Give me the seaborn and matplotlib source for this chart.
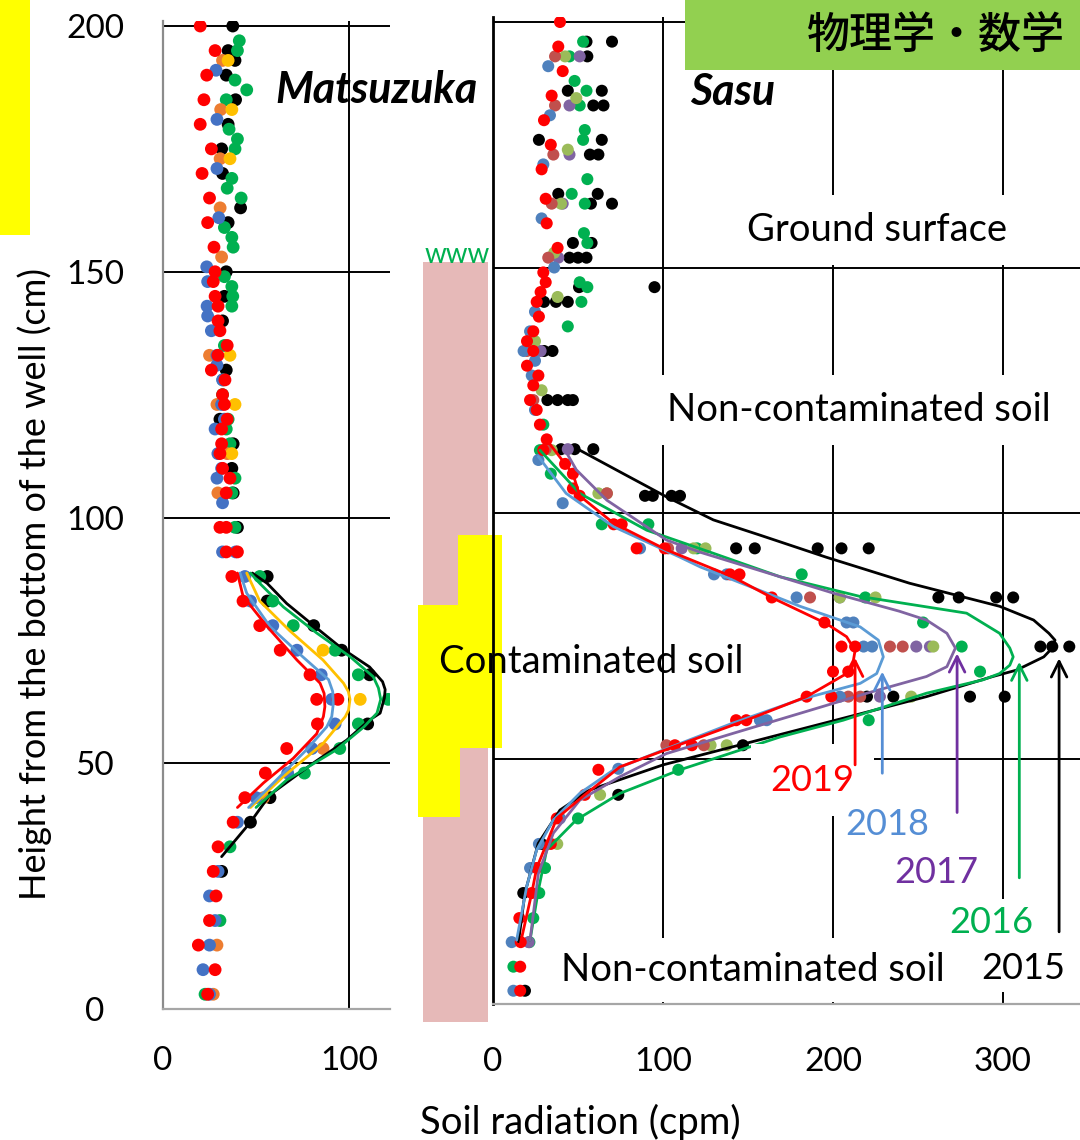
"""
Soil radiation profiles in two wells (Matsuzuka, Sasu), 2015-2019.
"""
import pandas as pd
import matplotlib
matplotlib.use("Agg")
import matplotlib.pyplot as plt
from matplotlib.patches import Rectangle
import seaborn as sns

W, H = 1080, 1140

# ---- Matsuzuka: measured points (height cm, radiation cpm)
MZ_BLACK = [(200, 37.5), (195, 35), (193, 38.7), (190, 34), (185, 39), (180, 35), (175, 31.5),
            (170, 32), (163, 41.7), (160, 35), (150, 34), (145, 33), (140, 32), (130, 34),
            (120, 30.6), (115, 37.7), (110, 37), (105, 37.7), (98, 40), (88, 56), (83, 56),
            (78, 81), (73, 96), (68, 111), (58, 110), (43, 57.5), (38, 47), (28, 31.5)]
MZ_GREEN = [(197, 41), (195, 40), (189, 38.7), (187, 45), (185, 34), (179, 35.5), (177, 40),
            (175, 38.7), (169, 37), (167, 34.5), (165, 42), (159, 33), (157, 37), (155, 37.7),
            (149, 33), (147, 37), (145, 37.5), (143, 37), (135, 33), (128, 32.3), (125, 32),
            (120, 35), (118, 34), (115, 36), (108, 38.7), (105, 37), (98, 38.7), (88, 52),
            (83, 59), (78, 70), (73, 92.5), (68, 105), (63, 121), (58, 105), (53, 95), (48, 76),
            (33, 36), (18, 30.6), (3, 22.6)]
MZ_ORANGE = [(193, 32), (183, 31), (173, 30.7), (163, 30.7), (153, 31.5), (133, 25), (123, 29),
             (113, 34.5), (105, 29.5), (53, 86), (43, 54), (13, 29), (3, 27)]
MZ_GOLD = [(193, 35), (183, 37), (173, 36), (133, 36), (123, 38.7), (113, 37), (73, 86), (63, 106)]
MZ_BLUE = [(191, 28.5), (181, 29), (171, 29), (161, 30), (151, 23.5), (148, 24), (143, 23.7),
           (141, 24), (138, 26), (133, 29), (131, 29), (128, 32), (123, 31.5), (120, 33),
           (118, 28), (113, 29.5), (110, 31.5), (108, 29), (103, 32), (93, 32), (93, 39),
           (88, 44), (83, 47), (78, 59), (73, 72), (68, 85), (63, 90.7), (58, 92.5), (53, 80),
           (48, 67), (43, 50), (38, 40), (28, 29.6), (23, 25), (18, 28), (13, 25), (8, 21.5),
           (3, 25)]
MZ_RED = [(200, 20), (195, 28), (190, 23.5), (185, 22), (180, 20), (175, 26), (170, 21),
          (165, 25), (160, 24), (155, 27.4), (150, 28), (148, 27), (145, 28), (143, 29.6),
          (140, 29.6), (138, 30.6), (135, 34.5), (133, 29.5), (130, 26), (128, 33.3), (125, 32),
          (123, 33), (120, 34.5), (118, 31.5), (115, 31.5), (113, 30.6), (110, 32), (108, 36),
          (105, 34), (98, 30.6), (98, 34), (93, 34), (93, 40), (88, 37), (83, 43), (78, 52),
          (73, 63), (68, 79), (63, 82.6), (63, 94), (58, 83), (53, 66.5), (48, 55), (43, 44),
          (38, 37.7), (33, 29.6), (28, 27), (23, 28.5), (18, 25), (13, 19), (8, 28), (3, 24)]

# ---- Matsuzuka: fitted curves
MZ_FIT_BLACK = [(31, 31.5), (38, 47), (43.6, 57.5), (50, 80.6), (54.7, 98.7), (58.8, 111),
                (60.2, 116.7), (63.3, 119), (65, 119.4), (66.6, 118), (69.6, 111), (73.4, 96),
                (78, 81), (82.5, 66.5), (86.6, 56), (88.7, 48)]
MZ_FIT_GREEN = [(41, 50), (46.6, 66.5), (52.7, 93), (57.4, 108), (60.2, 115), (63, 117),
                (65.3, 115.8), (67.6, 113), (71.7, 100.5), (76.5, 82.6), (81.8, 64.7),
                (86.6, 52), (88.7, 47)]
MZ_FIT_GOLD = [(41, 47), (47.3, 64.7), (54, 86), (59.5, 98), (60.8, 99.7), (63, 100.5),
               (64.6, 99.6), (66.3, 97), (71, 86), (77, 68), (83, 52), (88.7, 45)]
MZ_FIT_BLUE = [(41, 46), (46.6, 61), (52.7, 77), (57.4, 88), (59.5, 90.7), (62, 91.5),
               (64.6, 91.2), (67, 89), (71.7, 75), (77.8, 57.5), (84.6, 45), (88.7, 41.4)]
MZ_FIT_RED = [(41, 40), (46, 54), (51, 70), (56, 82.6), (59.5, 86.2), (61.5, 87), (64.2, 86.6),
              (66.3, 84.4), (71, 72), (77.8, 56), (84, 43), (88.7, 40)]

# ---- Sasu: measured points
SS_BLACK = [(196, 55), (196, 70), (193, 55.5), (186, 44), (186, 64), (183, 59), (183, 65),
            (176, 27), (176, 64), (173, 57), (173, 62), (165, 38.4), (165, 61.6), (163, 57.6),
            (163, 70), (155, 47), (155, 58), (152, 45), (152, 50), (152, 55), (146, 50.6),
            (146, 95), (143, 30), (143, 37), (143, 44), (133, 30), (133, 35), (123, 32),
            (123, 38), (123, 44), (123, 47), (113, 40), (113, 48), (113, 59), (103.5, 89.4),
            (103.5, 94), (103.5, 105), (103.5, 110), (92.8, 143), (92.8, 154), (92.8, 191),
            (92.8, 205), (92.8, 221), (82.8, 262), (82.8, 274), (82.8, 296), (82.8, 306),
            (72.8, 322), (72.8, 329), (72.8, 339), (62.6, 220), (62.6, 235.5), (62.6, 280.6),
            (62.6, 301), (52.7, 147), (42.6, 73.7), (32.6, 28.6), (22.6, 17.8), (2.7, 18.8)]
SS_GREEN = [(196, 53), (193, 45), (188, 48), (186, 55), (183, 51), (178, 54), (176, 53),
            (168, 55.5), (165, 46.3), (163, 54), (157, 53.5), (155, 55.5), (147, 51), (146, 55.5),
            (143, 52), (138, 44), (118, 29.6), (112.8, 27.6), (108, 34), (97.7, 64), (97.7, 91.4),
            (92.8, 120), (87.5, 181.6), (82.8, 219), (77.7, 253), (72.8, 275.7), (67.7, 286.5),
            (57.8, 221), (47.7, 109), (37.8, 50), (27.7, 30.6), (22.6, 27.2), (17.5, 23.7),
            (12.6, 21.4), (7.6, 12)]
SS_PURPLE = [(193, 51), (183, 45), (173, 45), (163, 41), (152, 38.4), (133, 28), (113, 44),
             (92.8, 111), (82.8, 204), (72.8, 249), (72.8, 257), (62.6, 227.6), (12.6, 21)]
SS_OLIVE = [(193, 42.4), (184.5, 49), (174, 44), (163, 40), (153, 36), (144, 38), (135, 24.7),
            (125, 28.6), (112.8, 34.5), (104, 62), (104, 67), (92.8, 118), (92.8, 125),
            (82.8, 204), (82.8, 225), (72.8, 259), (62.6, 246), (52.7, 128), (52.7, 137.5),
            (42.6, 63), (32.6, 37.8)]
SS_BROWN = [(193, 36.5), (183, 36.5), (173, 35.5), (163, 34.5), (152, 32.5), (133, 20),
            (123, 23.7), (113, 31), (104, 67), (92.8, 103), (82.8, 186.5), (72.8, 233.5),
            (72.8, 241), (62.6, 209), (62.6, 216), (52.7, 102), (52.7, 124)]
SS_BLUE = [(191, 32.5), (181, 33.5), (171, 29.6), (160, 28.6), (150, 36), (141, 24.7),
           (137, 21.8), (133, 18), (131, 24.7), (128, 22.8), (121, 24.7), (110.8, 26.7),
           (102, 41), (92.8, 86.5), (87.5, 130), (87.5, 137.5), (82.8, 178.6), (77.7, 208),
           (77.7, 212), (72.8, 218), (72.8, 223), (62.6, 204), (57.8, 157), (57.8, 161),
           (47.9, 73.7), (37.8, 39.4), (32.6, 27), (27.7, 21.8), (12.6, 11), (2.7, 12)]
SS_RED = [(200, 39.4), (195, 38.4), (190, 41), (185, 34.5), (180, 30), (175, 34), (170, 28.6),
          (164, 31), (159, 31.6), (154, 38), (149, 29.6), (147, 31), (145, 28), (143, 25.7),
          (140, 27), (137, 23.7), (135, 20), (133, 23.7), (130, 20), (128, 26.7), (126, 23.7),
          (123, 21.8), (121, 25.7), (118, 27.6), (115, 31.6), (112.8, 29.6), (110, 42.4),
          (108, 47), (105, 47), (103.5, 51), (97.7, 71), (97.7, 75.7), (92.8, 84.5),
          (92.8, 101), (87.5, 139.4), (87.5, 145), (82.8, 164), (77.7, 195), (72.8, 205),
          (72.8, 213), (67.7, 200), (67.7, 209), (62.6, 184.5), (62.6, 199), (57.8, 143),
          (57.8, 149), (52.7, 107), (52.7, 117), (47.7, 62), (42.6, 54), (37.8, 37.5),
          (32.6, 34), (27.7, 25.7), (22.6, 22.8), (17.5, 15.5), (12.6, 16.3), (7.6, 16),
          (2.7, 16)]

# ---- Sasu: fitted curves
SS_FIT_BLACK = [(12.7, 15), (22.6, 18.8), (32.7, 26.6), (39.5, 39.4), (43.6, 57), (48.7, 100),
                (53.1, 149), (58.2, 206), (62.6, 255), (66.7, 294), (68, 308), (70.7, 324),
                (72.5, 329), (74.1, 330.6), (75.5, 327), (78.2, 318), (81, 298), (85.7, 245),
                (91, 196), (95.5, 157), (98.6, 129.6), (103.3, 102), (108, 76.7), (112.8, 51)]
SS_FIT_GREEN = [(13, 21.8), (23.2, 26.7), (31.4, 31.6), (37.5, 49), (42.9, 74.7), (47.7, 110),
                (54.4, 169), (57.8, 206), (63.3, 255), (66, 288), (67.3, 298), (69, 304),
                (70.7, 306), (72.5, 304), (75.5, 298), (79.6, 278.6), (83, 216), (87, 169),
                (91.8, 129.6), (96.5, 90.4), (104, 51), (112.8, 27.6)]
SS_FIT_PURPLE = [(13, 21.8), (26.6, 26.7), (34.8, 35.5), (41.5, 51), (46.3, 74.7), (51, 102),
                 (55.1, 141), (59.2, 180.6), (63.3, 220), (66.7, 255), (68.7, 267), (72.5, 272),
                 (75.5, 267), (78.2, 255), (80, 239), (83.7, 200), (92, 122), (94.5, 102),
                 (102.6, 67), (108.8, 49), (112.8, 42.4)]
SS_FIT_BLUE = [(13, 13.9), (23.9, 19.8), (31.4, 25.7), (37.5, 35.5), (42.9, 51), (47.7, 71),
               (51.7, 100), (57.2, 141), (62, 180.6), (65.3, 216), (67.3, 225.7), (70.7, 229.6),
               (74.1, 226.7), (76.8, 216), (81, 180.6), (89, 122), (91, 110), (97.2, 71),
               (104, 43), (111.5, 26.7)]
SS_FIT_RED = [(12.6, 16.3), (22.6, 22.8), (27.7, 25.7), (37.8, 37.5), (42.6, 54), (48.3, 74.7),
              (52.6, 108), (57.8, 149), (62.6, 184.5), (67.3, 208), (70, 212), (72, 213),
              (74.8, 208), (77.5, 196), (82.6, 165), (87, 141), (92.5, 102), (97.9, 71),
              (103.5, 51), (108, 47), (110, 42.4), (114.9, 31.6)]

# ---- arrows marking the Sasu peaks, and year labels
YEARS = ["2019", "2018", "2017", "2016", "2015"]
YEAR_COLORS = ["#FF0000", "#558ED5", "#7030A0", "#00B050", "#000000"]
ARROW_X = [213, 229, 273, 309.6, 333]
ARROW_TIP = [70.5, 67.7, 71.4, 69.7, 70.4]
ARROW_BASE = [48.7, 47, 39, 25.7, 14.7]
YEAR_LABEL_X = [188, 232, 261, 293, 312]
YEAR_LABEL_Y = [45.6, 36.5, 26.7, 16.7, 7.3]

MZ_COLORS = {"black": "#000000", "green": "#00B050", "orange": "#ED7D31",
             "gold": "#FFC000", "blue": "#4472C4", "red": "#FF0000"}
SS_COLORS = {"black": "#000000", "green": "#00B050", "purple": "#8064A2", "olive": "#9BBB59",
             "brown": "#C0504D", "blue": "#4F81BD", "red": "#FF0000"}
FIT_COLORS = {"black": "#000000", "green": "#00B050", "gold": "#FFC000", "purple": "#8064A2",
              "blue": "#5B9BD5", "red": "#FF0000"}


def to_frame(series):
    rows = []
    for name, pts in series.items():
        for h, x in pts:
            rows.append({"series": name, "height": h, "cpm": x})
    return pd.DataFrame(rows)


def fx(px):
    return px / W


def fy(py):
    return 1 - py / H


sns.set_theme(style="white")
plt.rcParams["font.family"] = ["Lato", "Noto Sans CJK JP", "DejaVu Sans"]
plt.rcParams.update({"text.color": "black", "xtick.labelcolor": "black",
                     "ytick.labelcolor": "black", "lines.solid_joinstyle": "round"})

fig = plt.figure(figsize=(W / 100, H / 100), dpi=100)

# axes placed so that data map to the same pixels as the reference
ax1 = fig.add_axes([fx(163), fy(1009), fx(390) - fx(163), fy(21.1) - fy(1009)])
ax2 = fig.add_axes([fx(493), fy(1004), fx(1080) - fx(493), fy(17.1) - fy(1004)])

mz_pts = to_frame({"black": MZ_BLACK, "green": MZ_GREEN, "orange": MZ_ORANGE,
                   "gold": MZ_GOLD, "blue": MZ_BLUE, "red": MZ_RED})
mz_fit = to_frame({"black": MZ_FIT_BLACK, "green": MZ_FIT_GREEN, "gold": MZ_FIT_GOLD,
                   "blue": MZ_FIT_BLUE, "red": MZ_FIT_RED})
ss_pts = to_frame({"black": SS_BLACK, "green": SS_GREEN, "purple": SS_PURPLE,
                   "olive": SS_OLIVE, "brown": SS_BROWN, "blue": SS_BLUE, "red": SS_RED})
ss_fit = to_frame({"black": SS_FIT_BLACK, "green": SS_FIT_GREEN, "purple": SS_FIT_PURPLE,
                   "blue": SS_FIT_BLUE, "red": SS_FIT_RED})

sns.scatterplot(data=mz_pts, x="cpm", y="height", hue="series", palette=MZ_COLORS,
                s=85, linewidth=0, legend=False, ax=ax1, zorder=3)
sns.lineplot(data=mz_fit, x="cpm", y="height", hue="series", palette=FIT_COLORS,
             sort=False, estimator=None, lw=2, legend=False, ax=ax1, zorder=4)
sns.scatterplot(data=ss_pts, x="cpm", y="height", hue="series", palette=SS_COLORS,
                s=75, linewidth=0, legend=False, ax=ax2, zorder=3)
sns.lineplot(data=ss_fit, x="cpm", y="height", hue="series", palette=FIT_COLORS,
             sort=False, estimator=None, lw=2, legend=False, ax=ax2, zorder=4)

for ax, xmax, xticks in [(ax1, 122, [0, 100]), (ax2, 345.3, [0, 100, 200, 300])]:
    ax.set_xlim(0, xmax)
    ax.set_ylim(0, 201)
    ax.set_xticks(xticks)
    ax.set_yticks([0, 50, 100, 150, 200])
    ax.set_xlabel("")
    ax.set_ylabel("")
    ax.grid(True, color="black", lw=1.4)
    ax.set_axisbelow(True)
    ax.set_facecolor("none")
    for side in ["top", "right"]:
        ax.spines[side].set_visible(False)
    ax.spines["bottom"].set_color("#A6A6A6")
    ax.spines["bottom"].set_linewidth(1.6)

ax1.spines["left"].set_color("#8C8C8C")
ax1.spines["left"].set_linewidth(1.6)
ax1.tick_params(axis="both", length=0, labelsize=24)
ax1.tick_params(axis="y", pad=49)
ax1.tick_params(axis="x", pad=27)
for lab in ax1.get_yticklabels():
    lab.set_horizontalalignment("center")

ax2.spines["left"].set_color("black")
ax2.spines["left"].set_linewidth(2)
ax2.tick_params(axis="y", length=0, labelleft=False)
ax2.tick_params(axis="x", direction="in", length=6, width=1.2, color="#7F7F7F",
                labelsize=24, pad=31)

# site names
ax1.text(114.5, 187, "Matsuzuka", fontsize=31, fontweight="bold", fontstyle="italic",
         ha="center", va="center", zorder=5)
ax2.text(141, 185.7, "Sasu", fontsize=31, fontweight="bold", fontstyle="italic",
         ha="center", va="center", zorder=5)

# layer labels (white boxes interrupt the grid as in the original)
white = dict(facecolor="white", edgecolor="none", pad=12)
ax2.text(226, 157.6, "Ground surface", fontsize=27.5, ha="center", va="center",
         bbox=white, zorder=5)
ax2.text(215, 121, "Non-contaminated soil", fontsize=27.5, ha="center", va="center",
         bbox=white, zorder=5)
ax2.text(153, 6.9, "Non-contaminated soil", fontsize=27.5, ha="center", va="center",
         bbox=dict(facecolor="white", edgecolor="none", pad=10), zorder=5)
ax2.text(58, 69.7, "Contaminated soil", fontsize=27.5, ha="center", va="center", zorder=6)

for yr, col, lx, ly in zip(YEARS, YEAR_COLORS, YEAR_LABEL_X, YEAR_LABEL_Y):
    pad = 14 if yr == "2019" else 5
    ax2.text(lx, ly, yr, fontsize=26, color=col, ha="center", va="center",
             bbox=dict(facecolor="white", edgecolor="none", pad=pad), zorder=5)

for col, x, tip, base in zip(YEAR_COLORS, ARROW_X, ARROW_TIP, ARROW_BASE):
    ax2.annotate("", xy=(x, tip), xytext=(x, base),
                 arrowprops=dict(arrowstyle="->", color=col, lw=2, mutation_scale=28,
                                 shrinkA=0, shrinkB=0), zorder=7)

# well column (pink) with grass symbol, and the yellow overlays
ax2.add_patch(Rectangle((fx(423), fy(1022)), fx(488) - fx(423), fy(262) - fy(1022),
                        transform=fig.transFigure, color="#E6B9B8", lw=0,
                        clip_on=False, zorder=1))
ax2.text(fx(457), fy(263), "www", transform=fig.transFigure, color="#00B050",
         fontsize=20, ha="center", va="baseline", zorder=2)
for (x0, y0, x1, y1) in [(458, 535, 502, 748), (418, 605, 460, 817)]:
    ax2.add_patch(Rectangle((fx(x0), fy(y1)), fx(x1) - fx(x0), fy(y0) - fy(y1),
                            transform=fig.transFigure, color="#FFFF00", lw=0,
                            clip_on=False, zorder=1.5))

fig.text(fx(35), fy(584), "Height from the bottom of the well (cm)", rotation=90,
         fontsize=26, ha="center", va="center")
fig.text(fx(580), fy(1122), "Soil radiation (cpm)", fontsize=27.5, ha="center", va="center")

fig.add_artist(Rectangle((0, fy(235)), fx(30), fy(0) - fy(235), transform=fig.transFigure,
                         color="#FFFF00", lw=0, zorder=10))
fig.add_artist(Rectangle((fx(685), fy(70)), fx(1080) - fx(685), fy(0) - fy(70),
                         transform=fig.transFigure, color="#92D050", lw=0, zorder=10))
fig.text(fx(1065), fy(35), "物理学・数学", fontsize=31, fontweight="medium", ha="right",
         va="center", family=["Noto Sans CJK JP", "DejaVu Sans"], zorder=11)

fig.savefig("out.png", dpi=100, facecolor="white")
